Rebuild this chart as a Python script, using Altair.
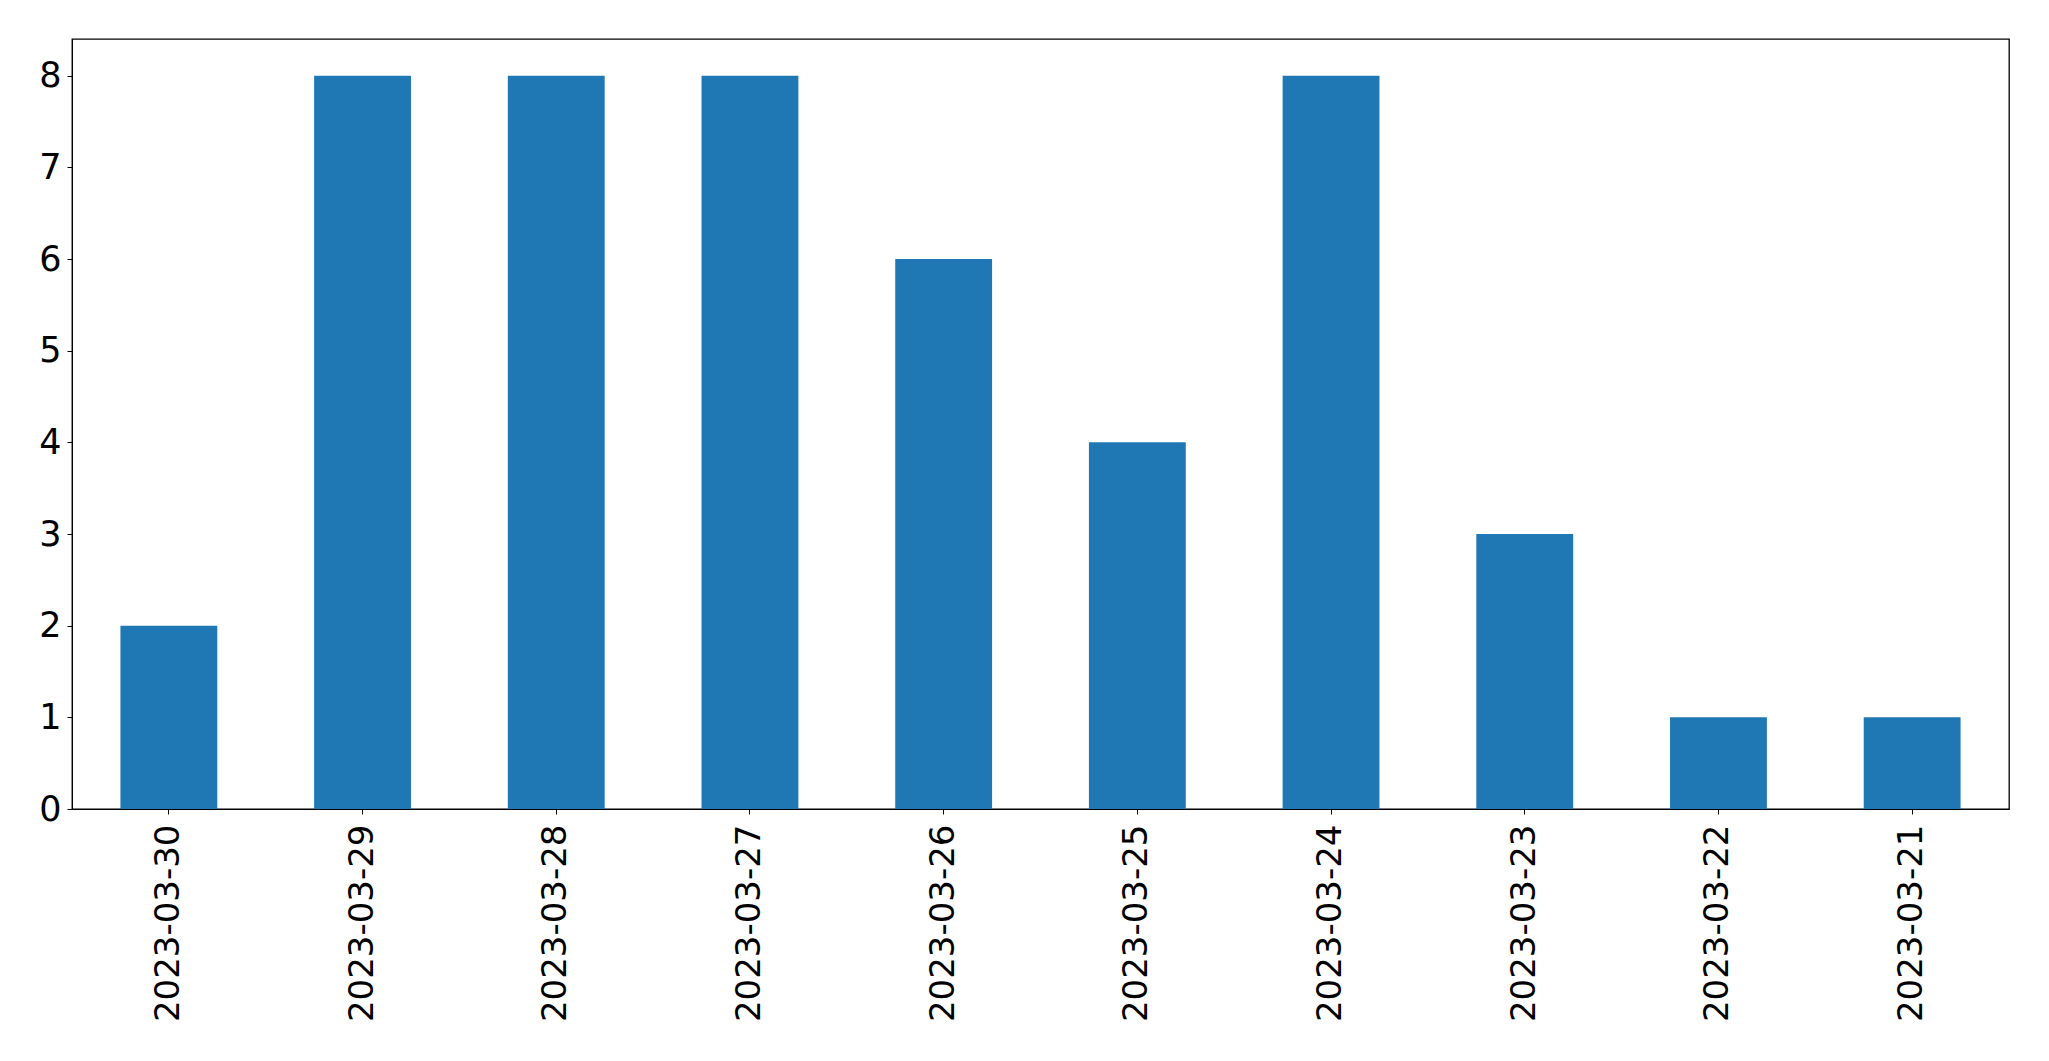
import altair as alt
import pandas as pd

dates = ["2023-03-30", "2023-03-29", "2023-03-28", "2023-03-27", "2023-03-26",
         "2023-03-25", "2023-03-24", "2023-03-23", "2023-03-22", "2023-03-21"]
counts = [2, 8, 8, 8, 6, 4, 8, 3, 1, 1]

df = pd.DataFrame({"date": dates, "count": counts})

chart = alt.Chart(df).mark_bar(color="#1f77b4").encode(
    x=alt.X("date:N", sort=dates, title=None,
            scale=alt.Scale(paddingInner=0.5, paddingOuter=0.25),
            axis=alt.Axis(labelAngle=-90, labelFontSize=34, labelFont="DejaVu Sans",
                          labelColor="black", tickColor="black", tickSize=5,
                          labelPadding=10, labelLimit=500, domainColor="black", grid=False)),
    y=alt.Y("count:Q", title=None,
            scale=alt.Scale(domain=[0, 8.4], nice=False),
            axis=alt.Axis(values=[0, 1, 2, 3, 4, 5, 6, 7, 8], labelFontSize=35,
                          labelFont="DejaVu Sans", labelColor="black", tickColor="black",
                          tickSize=5, labelPadding=6, domainColor="black", grid=False)),
).properties(
    width=1937, height=770,
    autosize=alt.AutoSizeParams(type="none"),
    padding={"left": 72, "top": 39, "right": 40, "bottom": 252},
).configure_view(stroke="black", strokeWidth=1.3)

chart.save("out.html", embed_options={"renderer": "svg", "actions": False})
